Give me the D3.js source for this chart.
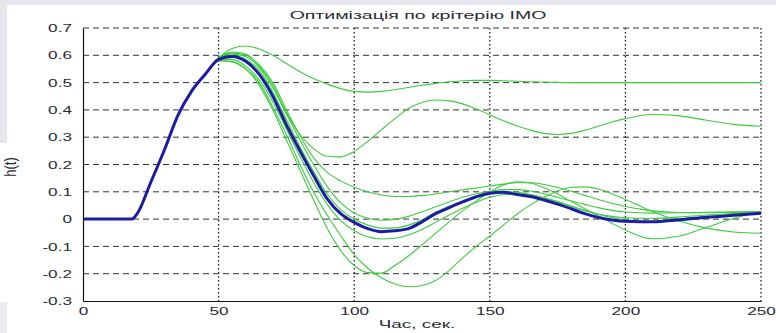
<!DOCTYPE html>
<html>
<head>
<meta charset="utf-8">
<script src="https://cdn.jsdelivr.net/npm/d3@7/dist/d3.min.js"></script>
<style>
  html, body { margin: 0; padding: 0; background: #fff; }
  svg { display: block; }
  text { font-family: "Liberation Sans", Arial, sans-serif; fill: #2a2a35; }
</style>
</head>
<body>
<svg id="chart" width="776" height="333"></svg>
<script>
// Time samples, seconds
const times = [0, 18, 20, 25, 30, 35, 40, 45, 50, 55, 60, 65, 70, 75, 80, 85, 90, 95, 100, 105,
  110, 115, 120, 125, 130, 135, 140, 145, 150, 155, 160, 165, 170, 175, 180, 185, 190, 195, 200,
  210, 220, 230, 240, 250];

// Optimal response h(t) (IMO criterion)
const optimal = [0, 0, 0.02, 0.135, 0.253, 0.38, 0.468, 0.53, 0.585, 0.596, 0.578, 0.53, 0.45, 0.345,
  0.25, 0.16, 0.075, 0.02, -0.012, -0.035, -0.046, -0.043, -0.035, -0.01, 0.02, 0.042, 0.063, 0.082,
  0.095, 0.098, 0.09, 0.083, 0.07, 0.055, 0.038, 0.02, 0.006, -0.003, -0.008, -0.01, -0.002, 0.007,
  0.014, 0.021];

// Responses for the other parameter sets
const run1 = [0, 0, 0.02, 0.135, 0.253, 0.38, 0.468, 0.53, 0.59, 0.625, 0.634, 0.623, 0.6, 0.57,
  0.54, 0.515, 0.495, 0.478, 0.468, 0.465, 0.468, 0.474, 0.482, 0.49, 0.497, 0.503, 0.507, 0.508,
  0.508, 0.507, 0.505, 0.503, 0.502, 0.501, 0.5, 0.5, 0.5, 0.5, 0.5, 0.5, 0.5, 0.5, 0.5, 0.5];
const run2 = [0, 0, 0.02, 0.135, 0.253, 0.38, 0.468, 0.53, 0.59, 0.612, 0.605, 0.56, 0.49, 0.39,
  0.31, 0.258, 0.23, 0.228, 0.248, 0.285, 0.327, 0.368, 0.405, 0.427, 0.436, 0.433, 0.422, 0.403,
  0.382, 0.36, 0.342, 0.326, 0.314, 0.31, 0.314, 0.325, 0.34, 0.356, 0.368, 0.383, 0.378, 0.362,
  0.347, 0.34];
const run3 = [0, 0, 0.02, 0.135, 0.253, 0.38, 0.468, 0.53, 0.58, 0.578, 0.55, 0.49, 0.4, 0.29,
  0.18, 0.07, -0.033, -0.115, -0.17, -0.196, -0.198, -0.17, -0.135, -0.095, -0.052, -0.01, 0.03,
  0.066, 0.1, 0.125, 0.137, 0.132, 0.115, 0.092, 0.065, 0.038, 0.012, -0.015, -0.04, -0.072, -0.062,
  -0.03, 0.003, 0.027];
const run4 = [0, 0, 0.02, 0.135, 0.253, 0.38, 0.468, 0.53, 0.58, 0.576, 0.55, 0.5, 0.41, 0.31,
  0.2, 0.1, 0.015, -0.06, -0.13, -0.18, -0.215, -0.238, -0.248, -0.243, -0.225, -0.188, -0.142, -0.1,
  -0.062, -0.022, 0.018, 0.052, 0.08, 0.103, 0.116, 0.118, 0.11, 0.093, 0.072, 0.028, -0.008, -0.033,
  -0.047, -0.052];
const run5 = [0, 0, 0.02, 0.135, 0.253, 0.38, 0.468, 0.53, 0.59, 0.608, 0.6, 0.565, 0.5, 0.4,
  0.305, 0.225, 0.172, 0.14, 0.117, 0.1, 0.088, 0.083, 0.083, 0.086, 0.092, 0.1, 0.107, 0.114, 0.121,
  0.128, 0.133, 0.133, 0.127, 0.116, 0.102, 0.087, 0.072, 0.058, 0.046, 0.03, 0.024, 0.023, 0.024,
  0.026];
const run6 = [0, 0, 0.02, 0.135, 0.253, 0.38, 0.468, 0.53, 0.58, 0.585, 0.56, 0.51, 0.43, 0.33,
  0.23, 0.135, 0.055, -0.005, -0.043, -0.065, -0.073, -0.07, -0.058, -0.038, -0.012, 0.015, 0.04,
  0.062, 0.08, 0.09, 0.092, 0.088, 0.078, 0.064, 0.048, 0.032, 0.018, 0.006, -0.003, -0.01, -0.006,
  0.004, 0.013, 0.02];
const run7 = [0, 0, 0.02, 0.135, 0.253, 0.38, 0.468, 0.53, 0.59, 0.6, 0.585, 0.545, 0.465, 0.365,
  0.265, 0.175, 0.092, 0.035, 0.0, -0.022, -0.033, -0.032, -0.022, -0.002, 0.025, 0.047, 0.066, 0.083,
  0.095, 0.1, 0.098, 0.09, 0.077, 0.062, 0.046, 0.031, 0.018, 0.01, 0.005, 0.003, 0.008, 0.015, 0.02,
  0.025];
const run8 = [0, 0, 0.02, 0.135, 0.253, 0.38, 0.468, 0.53, 0.59, 0.605, 0.595, 0.555, 0.48, 0.385,
  0.29, 0.2, 0.12, 0.06, 0.022, 0.003, -0.004, -0.001, 0.01, 0.027, 0.045, 0.063, 0.08, 0.093, 0.102,
  0.108, 0.108, 0.103, 0.093, 0.08, 0.066, 0.054, 0.042, 0.032, 0.026, 0.022, 0.023, 0.025, 0.027,
  0.028];
const variants = [run1, run2, run3, run4, run5, run6, run7, run8];

const xTicks = [0, 50, 100, 150, 200, 250];
const yTicks = [-0.3, -0.2, -0.1, 0, 0.1, 0.2, 0.3, 0.4, 0.5, 0.6, 0.7];
const titleText = "Оптимізація по крітерію IMO";
const xLabel = "Час, сек.";
const yLabel = "h(t)";

const svg = d3.select("#chart");
const W = 776, H = 333;
const plot = { left: 83, right: 761, top: 28, bottom: 301 };
const stretch = 1.72; // wide text glyphs

// Slide backdrop strips
const strip = "#e6e6ee";
svg.append("rect").attr("x", 0).attr("y", 0).attr("width", W).attr("height", 5).attr("fill", strip);
svg.append("rect").attr("x", 0).attr("y", 0).attr("width", 7).attr("height", 143).attr("fill", strip);
svg.append("rect").attr("x", 0).attr("y", 302).attr("width", 7).attr("height", 31).attr("fill", "#ececf2");

const x = d3.scaleLinear().domain([0, 250]).range([plot.left, plot.right]);
const y = d3.scaleLinear().domain([-0.3, 0.7]).range([plot.bottom, plot.top]);

// Grid: dashed horizontals, dotted verticals
const grid = svg.append("g");
grid.selectAll("line.h").data(yTicks.filter(v => v > -0.3)).join("line")
  .attr("x1", plot.left).attr("x2", plot.right)
  .attr("y1", d => y(d)).attr("y2", d => y(d))
  .attr("stroke", "#333").attr("stroke-width", 1)
  .attr("stroke-dasharray", "6,4");
grid.selectAll("line.v").data(xTicks.filter(v => v > 0)).join("line")
  .attr("x1", d => x(d)).attr("x2", d => x(d))
  .attr("y1", plot.top).attr("y2", plot.bottom)
  .attr("stroke", "#222").attr("stroke-width", 1.3)
  .attr("stroke-dasharray", "1.6,2.4");

// Response curves
const line = d3.line()
  .x((d, i) => x(times[i]))
  .y(d => y(d))
  .curve(d3.curveMonotoneX);

svg.append("g").selectAll("path").data(variants).join("path")
  .attr("d", line)
  .attr("fill", "none")
  .attr("stroke", "#3ccc3c")
  .attr("stroke-width", 1.1);

svg.append("path").datum(optimal)
  .attr("d", line)
  .attr("fill", "none")
  .attr("stroke", "#1c1ca6")
  .attr("stroke-width", 3)
  .attr("stroke-linejoin", "round");

// Axes
const fmtX = d3.format("d");
const fmtY = v => (Math.abs(v) < 1e-9 ? "0" : v.toFixed(1));
const gx = svg.append("g").attr("transform", `translate(0,${plot.bottom})`)
  .call(d3.axisBottom(x).tickValues(xTicks).tickFormat(fmtX).tickSize(0).tickSizeOuter(0));
const gy = svg.append("g").attr("transform", `translate(${plot.left},0)`)
  .call(d3.axisLeft(y).tickValues(yTicks).tickFormat(fmtY).tickSize(0).tickSizeOuter(0));

[gx, gy].forEach(g => {
  g.select(".domain").attr("stroke", "#111").attr("stroke-width", 1.2);
  g.selectAll("text").attr("fill", "#2a2a35").style("font-size", "10px")
    .style("font-family", "'Liberation Sans', Arial, sans-serif");
});
gx.selectAll("text").attr("y", 0).attr("dy", null)
  .attr("text-anchor", "middle")
  .attr("transform", `translate(0,13.5) scale(${stretch},1)`);
gy.selectAll("text").attr("x", 0).attr("dy", "0.36em")
  .attr("text-anchor", "end")
  .attr("transform", `translate(-11,0) scale(${stretch},1)`);

// Title and axis labels
svg.append("text").text(titleText)
  .attr("text-anchor", "middle")
  .style("font-size", "11.7px")
  .attr("transform", `translate(418,19) scale(${stretch * 0.97},1)`);

svg.append("text").text(xLabel)
  .attr("text-anchor", "middle")
  .style("font-size", "11px")
  .attr("transform", `translate(417,328) scale(${stretch},1)`);

svg.append("text").text(yLabel)
  .attr("text-anchor", "middle")
  .style("font-size", "10px")
  .attr("transform", `translate(16,167) rotate(-90) scale(1.3,1.6)`);
</script>
</body>
</html>
